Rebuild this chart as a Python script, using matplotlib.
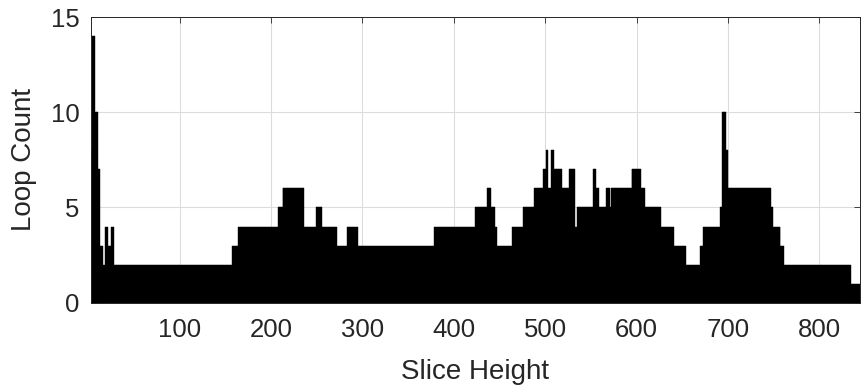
import numpy as np
import matplotlib.pyplot as plt

# runs of equal loop count along the slice height (first slice, last slice, count)
run_start = [3, 5, 8, 11, 13, 16, 19, 22, 25, 28, 158, 164, 208, 213, 236, 250,
             256, 273, 284, 296, 379, 424, 437, 441, 445, 448, 464, 476, 488, 498,
             501, 504, 507, 510, 519, 527, 533, 535, 553, 556, 559, 567, 571, 573,
             595, 605, 610, 627, 641, 655, 670, 673, 692, 694, 698, 701, 748, 750,
             758, 762, 835]
run_end = [4, 7, 10, 12, 15, 18, 21, 24, 27, 157, 163, 207, 212, 235, 249, 255,
           272, 283, 295, 378, 423, 436, 440, 444, 447, 463, 475, 487, 497, 500,
           503, 506, 509, 518, 526, 532, 534, 552, 555, 558, 566, 570, 572, 594,
           604, 609, 626, 640, 654, 669, 672, 691, 693, 697, 700, 747, 749, 757,
           761, 834, 844]
run_count = [8, 14, 10, 7, 3, 2, 4, 3, 4, 2, 3, 4, 5, 6, 4, 5,
             4, 3, 4, 3, 4, 5, 6, 5, 4, 3, 4, 5, 6, 7,
             8, 6, 8, 7, 6, 7, 4, 5, 7, 6, 5, 6, 5, 6,
             7, 6, 5, 4, 3, 2, 3, 4, 5, 10, 8, 6, 5, 4,
             3, 2, 1]

x_ticks = [100, 200, 300, 400, 500, 600, 700, 800]
y_ticks = [0, 5, 10, 15]

# one bar per slice
slices = []
counts = []
for s, e, c in zip(run_start, run_end, run_count):
    for h in range(s, e + 1):
        slices.append(h)
        counts.append(c)

plt.rcParams['font.family'] = ['Liberation Sans', 'DejaVu Sans']
text_col = '#262626'

fig = plt.figure(figsize=(8.61, 3.9), dpi=100)
ax = fig.add_axes([0.1053, 0.2238, 0.8935, 0.7326])

ax.bar(slices, counts, width=1.0, color='black', edgecolor='black',
       linewidth=0.3, zorder=2)

ax.set_xlim(2.5, 844.5)
ax.set_ylim(0, 15)
ax.set_xticks(x_ticks)
ax.set_yticks(y_ticks)
ax.grid(True, color='#dcdcdc', linewidth=0.8, zorder=0)
ax.set_axisbelow(True)

ax.tick_params(direction='in', length=4, width=0.6, colors=text_col,
               labelsize=18.5, top=True, right=True, pad=8)
ax.tick_params(axis='x', pad=11)
for sp in ax.spines.values():
    sp.set_color(text_col)
    sp.set_linewidth(0.7)

ax.set_xlabel('Slice Height', fontsize=20, color=text_col, labelpad=12)
ax.set_ylabel('Loop Count', fontsize=20, color=text_col, labelpad=10)

fig.savefig('out.png', dpi=100)
